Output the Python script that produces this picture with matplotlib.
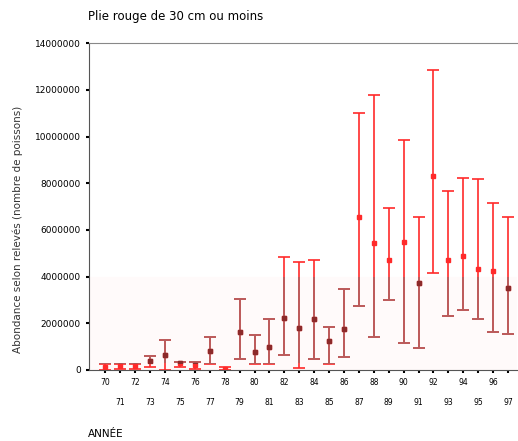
import matplotlib.pyplot as plt
from matplotlib.patches import Rectangle
from matplotlib.ticker import MultipleLocator, FixedLocator

# Plie rouge <= 30 cm, abondance selon releves
years = list(range(70, 98))
mean = [0.12e6, 0.17e6, 0.17e6, 0.40e6, 0.64e6, 0.29e6, 0.21e6, 0.83e6, 0.04e6,
        1.64e6, 0.76e6, 1.00e6, 2.24e6, 1.81e6, 2.17e6, 1.25e6, 1.74e6,
        6.54e6, 5.42e6, 4.71e6, 5.47e6, 3.74e6, 8.31e6, 4.71e6, 4.88e6,
        4.32e6, 4.24e6, 3.52e6]
upper = [0.26e6, 0.26e6, 0.26e6, 0.61e6, 1.28e6, 0.36e6, 0.36e6, 1.40e6, 0.14e6,
         3.04e6, 1.50e6, 2.18e6, 4.82e6, 4.61e6, 4.71e6, 1.86e6, 3.45e6,
         11.03e6, 11.80e6, 6.92e6, 9.85e6, 6.56e6, 12.84e6, 7.66e6, 8.23e6,
         8.19e6, 7.16e6, 6.56e6]
lower = [0.0, 0.05e6, 0.05e6, 0.14e6, 0.0, 0.14e6, 0.05e6, 0.26e6, 0.0,
         0.47e6, 0.24e6, 0.26e6, 0.66e6, 0.10e6, 0.48e6, 0.26e6, 0.57e6,
         2.75e6, 1.40e6, 3.00e6, 1.17e6, 0.95e6, 4.14e6, 2.33e6, 2.55e6,
         2.18e6, 1.64e6, 1.54e6]

yerr = [[m - lo for m, lo in zip(mean, lower)],
        [up - m for m, up in zip(mean, upper)]]

fig = plt.figure(figsize=(5.18, 4.41), dpi=100)
ax = fig.add_axes([0.172, 0.161, 0.826, 0.741])

# faint tinted band in the lower part of the plot (as in the scanned original)
band_top = 3.98e6
band_bottom = 0.3e6
ax.axhspan(0, band_top, color='#fffafa', zorder=0)

ax.errorbar(years, mean, yerr=yerr, fmt='s', color='#ff2a2a', ecolor='#ff2a2a',
            markersize=3.5, elinewidth=1.2, capsize=4.5, capthick=1.2, zorder=2)

# darker copy of the bars, clipped to the tinted band
clip = Rectangle((68, band_bottom), 40, band_top - band_bottom,
                 transform=ax.transData, visible=False)
ax.add_patch(clip)
dark = ax.errorbar(years, mean, yerr=yerr, fmt='s', color='#8c2a2a',
                   ecolor='#b06060', markersize=3.5, elinewidth=1.2,
                   capsize=4.5, capthick=1.2, zorder=3)
parts = [dark.lines[0]] + list(dark.lines[1]) + list(dark.lines[2])
for art in parts:
    art.set_clip_path(clip)

ax.set_xlim(68.9, 97.6)
ax.set_ylim(0, 14000000)
ax.yaxis.set_major_locator(MultipleLocator(2000000))
ax.set_yticklabels([f"{int(v)}" for v in ax.get_yticks()], fontsize=6.5)

ax.xaxis.set_major_locator(FixedLocator(years))
labels = [f"{y}" if y % 2 == 0 else f"\n\n{y}" for y in years]
ax.set_xticklabels(labels, fontsize=5.5, linespacing=1.15)

ax.tick_params(axis='both', length=2.5, width=1.5, color='black')
ax.spines['right'].set_visible(False)
ax.spines['top'].set_color('#888888')
ax.spines['left'].set_color('#555555')
ax.spines['bottom'].set_color('#555555')

ax.set_ylabel("Abondance selon relevés (nombre de poissons)", fontsize=7.5,
              color='#333333')
ax.yaxis.set_label_coords(-0.155, 0.43)
fig.text(0.17, 0.01, "ANNÉE", fontsize=7.5)
fig.text(0.17, 0.955, "Plie rouge de 30 cm ou moins", fontsize=8.5)

fig.savefig("out.png", dpi=100)
